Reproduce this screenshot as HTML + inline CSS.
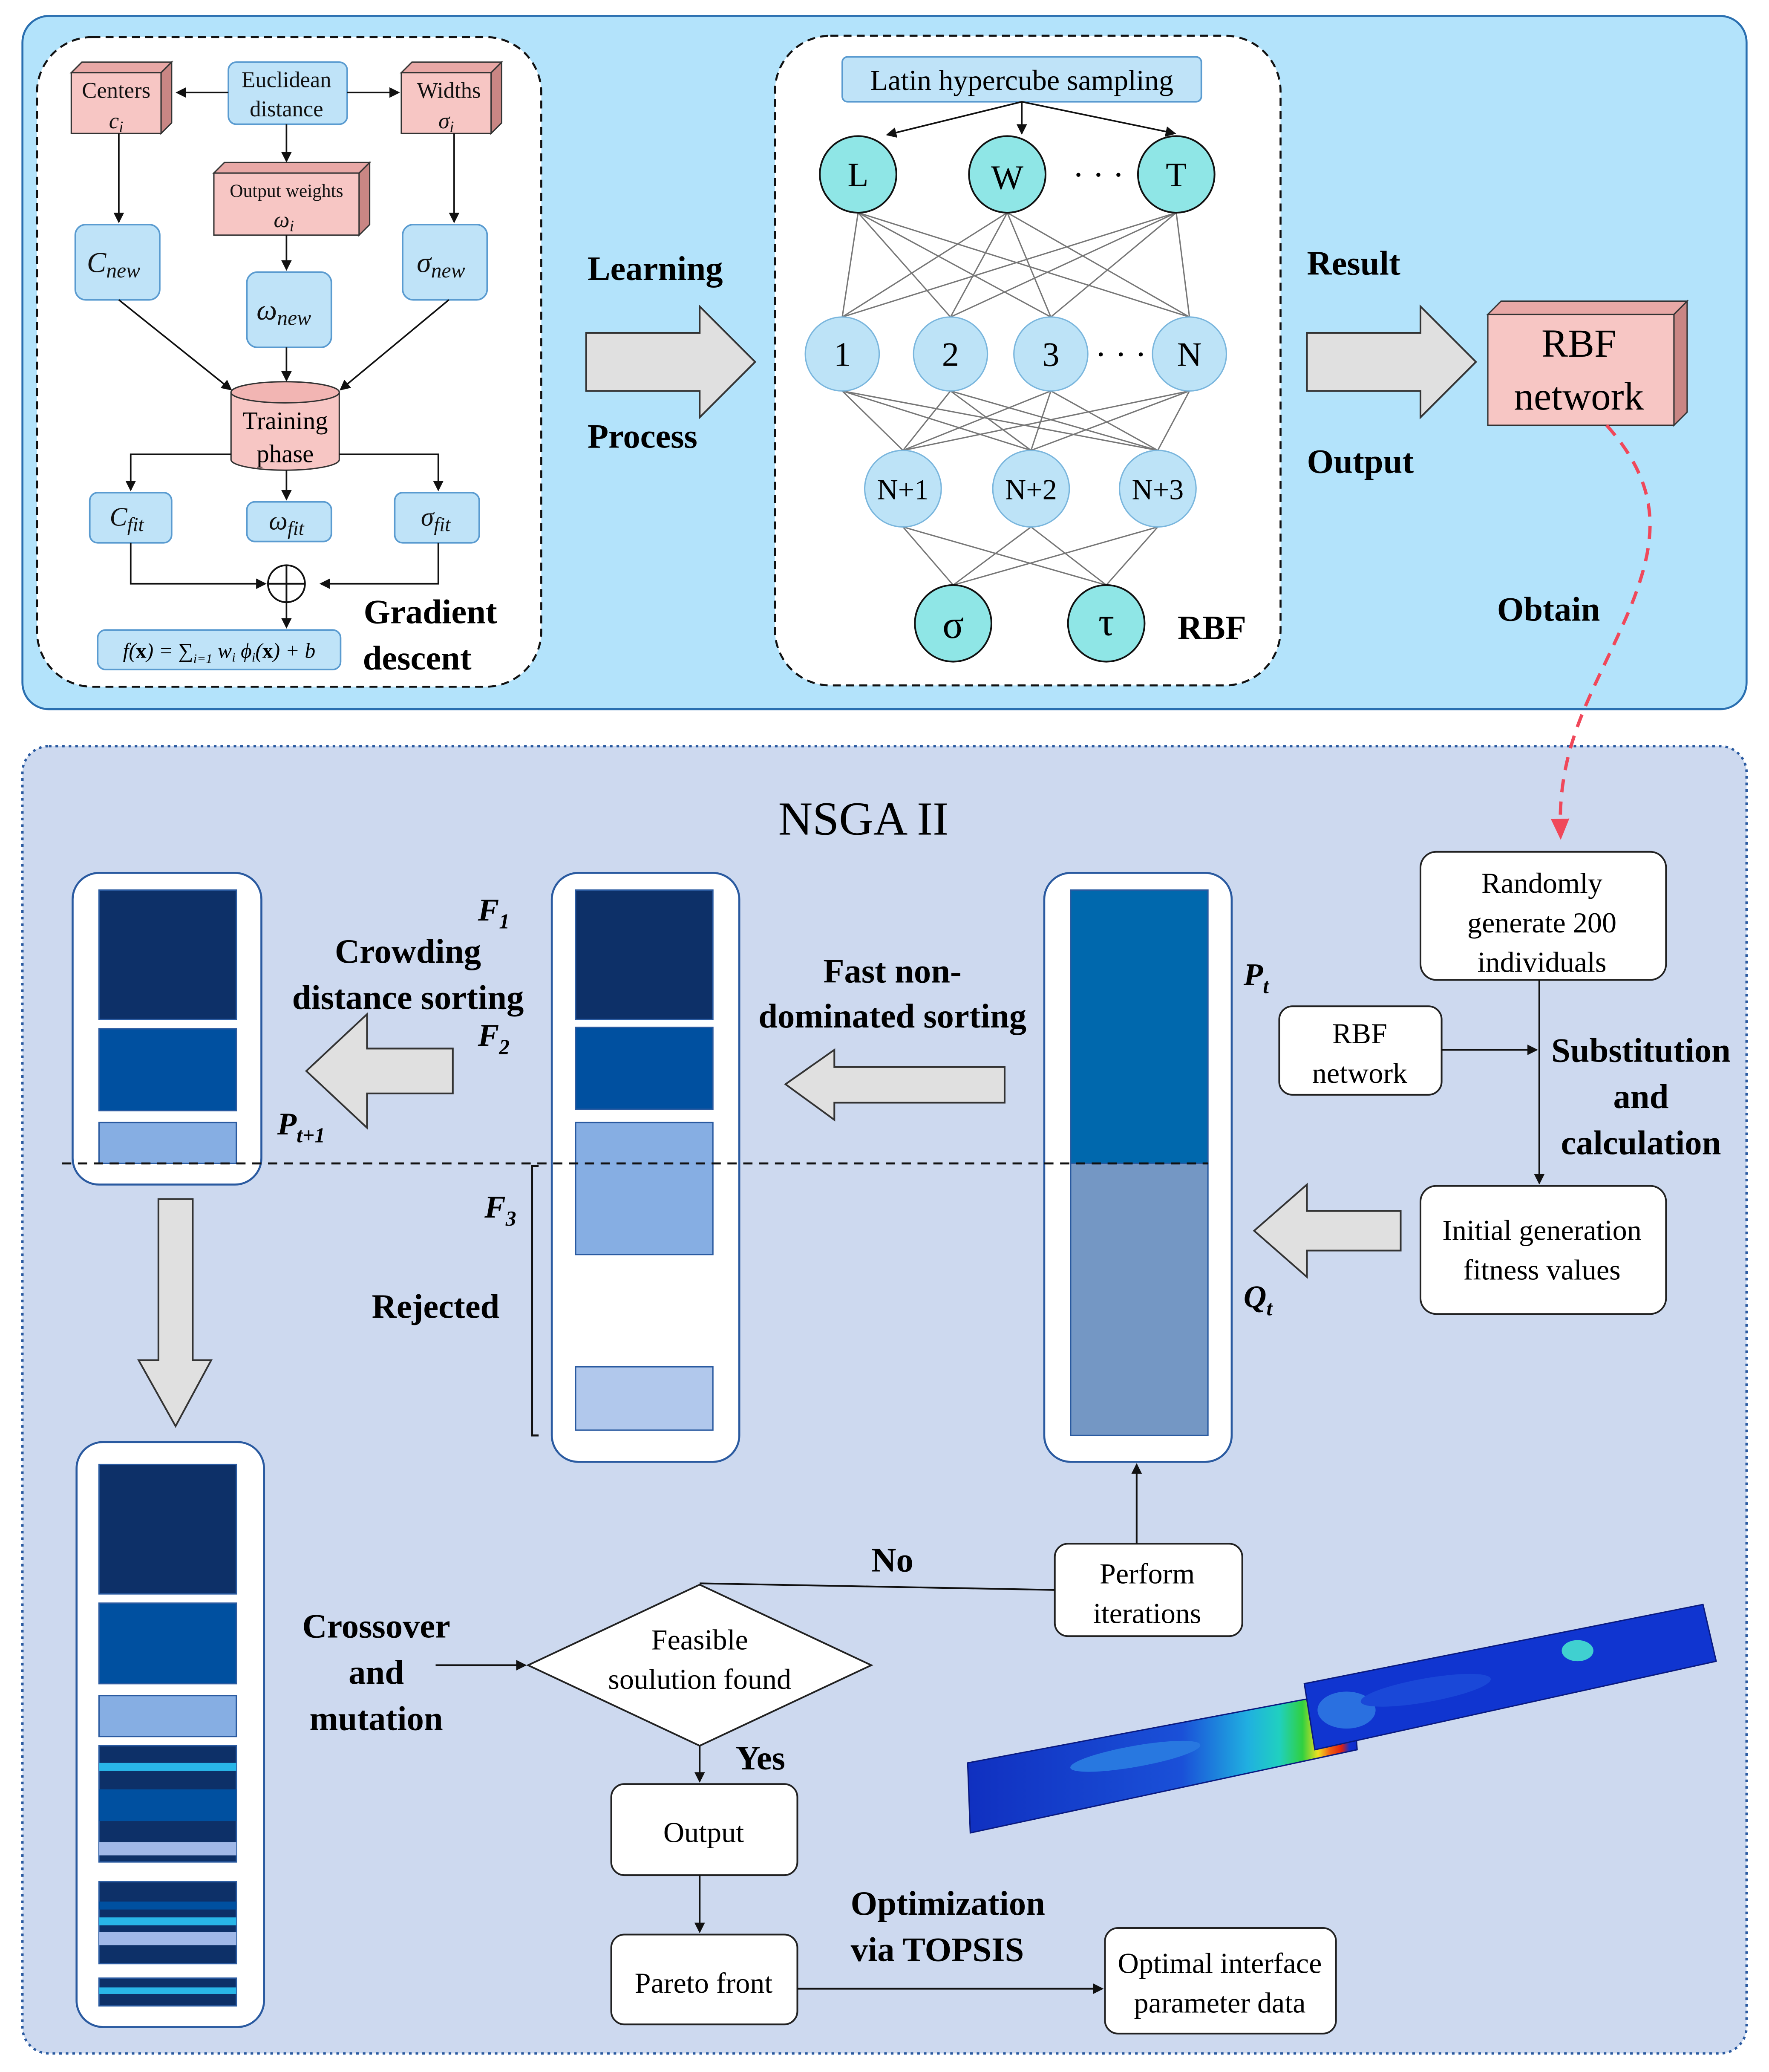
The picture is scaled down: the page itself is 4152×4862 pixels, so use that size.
<!DOCTYPE html>
<html><head><meta charset="utf-8"><style>html,body{margin:0;padding:0;background:#fff}svg{display:block}</style></head><body>
<svg xmlns="http://www.w3.org/2000/svg" width="4152" height="4862" viewBox="0 0 1340 1569" font-family="Liberation Serif, serif">
<defs>
<marker id="a" markerWidth="8" markerHeight="8" refX="7" refY="4" orient="auto" markerUnits="userSpaceOnUse"><path d="M0,0 L8,4 L0,8 z" fill="#111"/></marker>
<marker id="r" markerWidth="16" markerHeight="14" refX="8" refY="7" orient="auto" markerUnits="userSpaceOnUse"><path d="M0,0 L16,7 L0,14 z" fill="#f0485a"/></marker>
<linearGradient id="fe" x1="0" x2="1" y1="0" y2="0"><stop offset="0" stop-color="#1030c0"/><stop offset="0.55" stop-color="#1a50d8"/><stop offset="0.72" stop-color="#20b0e0"/><stop offset="0.8" stop-color="#20d0c0"/><stop offset="0.86" stop-color="#30d040"/><stop offset="0.9" stop-color="#f0e020"/><stop offset="0.93" stop-color="#f06010"/><stop offset="0.96" stop-color="#e02010"/><stop offset="0.98" stop-color="#1030d0"/><stop offset="1" stop-color="#0f2ccc"/></linearGradient>
</defs>
<!-- Top panel -->
<rect x="17" y="12" width="1306" height="525" rx="20" fill="#b3e3fb" stroke="#2a6fb0" stroke-width="1.5"/>
<rect x="28" y="28" width="382" height="492" rx="42" fill="#fff" stroke="#111" stroke-width="1.5" stroke-dasharray="6,4"/>
<rect x="587" y="27" width="383" height="492" rx="42" fill="#fff" stroke="#111" stroke-width="1.5" stroke-dasharray="6,4"/>
<g stroke="#333" stroke-width="1">
<path d="M54,55 L62,47 L130,47 L122,55z" fill="#e8a8a6"/><path d="M122,55 L130,47 L130,93 L122,101z" fill="#c98684"/><rect x="54" y="55" width="68" height="46" fill="#f7c6c4"/>
<path d="M304,55 L312,47 L380,47 L372,55z" fill="#e8a8a6"/><path d="M372,55 L380,47 L380,93 L372,101z" fill="#c98684"/><rect x="304" y="55" width="68" height="46" fill="#f7c6c4"/>
<path d="M162,131 L170,123 L280,123 L272,131z" fill="#e8a8a6"/><path d="M272,131 L280,123 L280,170 L272,178z" fill="#c98684"/><rect x="162" y="131" width="110" height="47" fill="#f7c6c4"/>
<path d="M1127,238 L1137,228 L1278,228 L1268,238z" fill="#e8a8a6"/><path d="M1268,238 L1278,228 L1278,312 L1268,322z" fill="#c98684"/><rect x="1127" y="238" width="141" height="84" fill="#f7c6c4"/>
</g>
<g font-size="17" text-anchor="middle" fill="#111">
<text x="88" y="74">Centers</text><text x="88" y="97" font-style="italic">c<tspan font-size="12" dy="3">i</tspan></text>
<text x="340" y="74">Widths</text><text x="338" y="97" font-style="italic">σ<tspan font-size="12" dy="3">i</tspan></text>
<text x="217" y="149" font-size="14">Output weights</text><text x="215" y="172" font-style="italic">ω<tspan font-size="12" dy="3">i</tspan></text>
</g>
<g fill="#bfe3f8" stroke="#5a9bd0" stroke-width="1.2">
<rect x="173" y="47" width="90" height="47" rx="6"/>
<rect x="57" y="170" width="64" height="57" rx="8"/><rect x="187" y="206" width="64" height="57" rx="8"/><rect x="305" y="170" width="64" height="57" rx="8"/>
<rect x="68" y="373" width="62" height="38" rx="6"/><rect x="187" y="380" width="64" height="30" rx="6"/><rect x="299" y="373" width="64" height="38" rx="6"/>
<rect x="74" y="477" width="184" height="30" rx="6"/>
<rect x="638" y="43" width="272" height="34" rx="4"/>
</g>
<g font-size="17" text-anchor="middle" fill="#111">
<text x="217" y="66">Euclidean</text><text x="217" y="88">distance</text>
</g>
<g font-size="22" font-style="italic" text-anchor="middle" fill="#111">
<text x="86" y="206">C<tspan font-size="16" dy="4">new</tspan></text>
<text x="215" y="242">ω<tspan font-size="16" dy="4">new</tspan></text>
<text x="334" y="206">σ<tspan font-size="16" dy="4">new</tspan></text>
<text x="96" y="398" font-size="20">C<tspan font-size="15" dy="4">fit</tspan></text>
<text x="217" y="401" font-size="20">ω<tspan font-size="15" dy="4">fit</tspan></text>
<text x="330" y="398" font-size="20">σ<tspan font-size="15" dy="4">fit</tspan></text>
</g>
<text x="166" y="498" font-size="16" font-style="italic" text-anchor="middle">f(<tspan font-weight="bold" font-style="normal">x</tspan>) = ∑<tspan font-size="10" dy="4">i=1</tspan><tspan dy="-4"> w</tspan><tspan font-size="10" dy="3">i</tspan><tspan dy="-3"> ϕ</tspan><tspan font-size="10" dy="3">i</tspan><tspan dy="-3">(</tspan><tspan font-weight="bold" font-style="normal">x</tspan>) + b</text>
<path d="M175,297 L175,348 A41,8 0 0 0 257,348 L257,297" fill="#f7c6c4" stroke="#333"/>
<ellipse cx="216" cy="297" rx="41" ry="8" fill="#f2b5b3" stroke="#333"/>
<text x="216" y="325" font-size="19" text-anchor="middle">Training</text><text x="216" y="350" font-size="19" text-anchor="middle">phase</text>
<circle cx="217" cy="442" r="14" fill="#fff" stroke="#111" stroke-width="1.3"/><path d="M203,442 H231 M217,428 V456" stroke="#111" stroke-width="1.3"/>
<g stroke="#111" stroke-width="1.2" fill="none" marker-end="url(#a)">
<path d="M173,70 H134"/><path d="M263,70 H302"/><path d="M217,94 V122"/>
<path d="M90,101 V168"/><path d="M344,101 V168"/><path d="M217,178 V204"/>
<path d="M90,227 L175,295"/><path d="M217,263 V288"/><path d="M340,227 L258,295"/>
<path d="M175,344 H99 V371"/><path d="M217,356 V378"/><path d="M257,344 H332 V371"/>
<path d="M99,411 V442 H201"/><path d="M332,411 V442 H243"/><path d="M217,456 V475"/>
</g>
<text x="326" y="472" font-size="26" font-weight="bold" text-anchor="middle">Gradient</text>
<text x="316" y="507" font-size="26" font-weight="bold" text-anchor="middle">descent</text>
<g fill="#e0e0e0" stroke="#333" stroke-width="1.3">
<path d="M444,252 H530 V232 L572,274 L530,316 V296 H444z"/>
<path d="M990,252 H1076 V232 L1118,274 L1076,316 V296 H990z"/>
</g>
<g font-size="26" font-weight="bold">
<text x="445" y="212">Learning</text><text x="445" y="339">Process</text>
<text x="990" y="208">Result</text><text x="990" y="358">Output</text>
<text x="1134" y="470">Obtain</text><text x="892" y="484">RBF</text>
</g>
<text x="1196" y="270" font-size="30" text-anchor="middle">RBF</text><text x="1196" y="310" font-size="30" text-anchor="middle">network</text>
<text x="774" y="68" font-size="22" text-anchor="middle">Latin hypercube sampling</text>
<g stroke="#111" stroke-width="1.2" marker-end="url(#a)"><path d="M774,77 L672,102"/><path d="M774,77 V101"/><path d="M774,77 L890,101"/></g>
<g stroke="#777" stroke-width="1">
<path d="M650,161 L638,240 M650,161 L720,240 M650,161 L796,240 M650,161 L901,240 M763,161 L638,240 M763,161 L720,240 M763,161 L796,240 M763,161 L901,240 M891,161 L638,240 M891,161 L720,240 M891,161 L796,240 M891,161 L901,240"/>
<path d="M638,296 L684,341 M638,296 L781,341 M638,296 L877,341 M720,296 L684,341 M720,296 L781,341 M720,296 L877,341 M796,296 L684,341 M796,296 L781,341 M796,296 L877,341 M901,296 L684,341 M901,296 L781,341 M901,296 L877,341"/>
<path d="M684,399 L722,443 M684,399 L838,443 M781,399 L722,443 M781,399 L838,443 M877,399 L722,443 M877,399 L838,443"/>
</g>
<g stroke="#111" stroke-width="1.3">
<circle cx="650" cy="132" r="29" fill="#8fe6e6"/><circle cx="763" cy="132" r="29" fill="#8fe6e6"/><circle cx="891" cy="132" r="29" fill="#8fe6e6"/>
<circle cx="722" cy="472" r="29" fill="#8fe6e6"/><circle cx="838" cy="472" r="29" fill="#8fe6e6"/>
</g>
<g stroke="#7ab6dd" stroke-width="1" fill="#bde3f7">
<circle cx="638" cy="268" r="28"/><circle cx="720" cy="268" r="28"/><circle cx="796" cy="268" r="28"/><circle cx="901" cy="268" r="28"/>
<circle cx="684" cy="370" r="29"/><circle cx="781" cy="370" r="29"/><circle cx="877" cy="370" r="29"/>
</g>
<g font-size="26" text-anchor="middle">
<text x="650" y="141">L</text><text x="763" y="143">W</text><text x="891" y="141">T</text><text x="832" y="141">· · ·</text>
<text x="638" y="277">1</text><text x="720" y="277">2</text><text x="796" y="277">3</text><text x="901" y="277">N</text><text x="849" y="277">· · ·</text>
<text x="684" y="378" font-size="22">N+1</text><text x="781" y="378" font-size="22">N+2</text><text x="877" y="378" font-size="22">N+3</text>
<text x="722" y="483" font-size="30">σ</text><text x="838" y="481" font-size="30">τ</text>
</g>
<rect x="17" y="565" width="1306" height="990" rx="20" fill="#cdd9ef" stroke="#2a5aa0" stroke-width="1.8" stroke-dasharray="2,3"/>
<path d="M1217,322 C1260,370 1255,410 1235,460 C1210,520 1180,560 1182,628" fill="none" stroke="#f0485a" stroke-width="2.5" stroke-dasharray="10,7" marker-end="url(#r)"/>
<text x="654" y="632" font-size="36" text-anchor="middle">NSGA II</text>
<g fill="#fff" stroke="#2a5aa0" stroke-width="1.5">
<rect x="55" y="661" width="143" height="236" rx="20"/><rect x="418" y="661" width="142" height="446" rx="20"/>
<rect x="791" y="661" width="142" height="446" rx="20"/><rect x="58" y="1092" width="142" height="443" rx="20"/>
</g>
<g stroke="#2a5aa0" stroke-width="1">
<rect x="75" y="674" width="104" height="98" fill="#0d3068"/><rect x="75" y="779" width="104" height="62" fill="#0050a0"/><rect x="75" y="850" width="104" height="31" fill="#86aee3"/>
<rect x="436" y="674" width="104" height="98" fill="#0d3068"/><rect x="436" y="778" width="104" height="62" fill="#0050a0"/><rect x="436" y="850" width="104" height="100" fill="#86aee3"/><rect x="436" y="1035" width="104" height="48" fill="#b1c8ec"/>
<rect x="811" y="674" width="104" height="207" fill="#0068ad"/><rect x="811" y="881" width="104" height="206" fill="#7497c4"/>
<rect x="75" y="1109" width="104" height="98" fill="#0d3068"/><rect x="75" y="1214" width="104" height="61" fill="#0050a0"/><rect x="75" y="1284" width="104" height="31" fill="#86aee3"/>
<rect x="75" y="1322" width="104" height="88" fill="#0d3068"/><rect x="75" y="1425" width="104" height="62" fill="#0d3068"/><rect x="75" y="1498" width="104" height="21" fill="#0d3068"/>
</g>
<g>
<rect x="75" y="1335" width="104" height="6" fill="#29b6e8"/><rect x="75" y="1355" width="104" height="24" fill="#0050a0"/><rect x="75" y="1395" width="104" height="10" fill="#a0b8e8"/>
<rect x="75" y="1440" width="104" height="6" fill="#0050a0"/><rect x="75" y="1452" width="104" height="6" fill="#29b6e8"/><rect x="75" y="1463" width="104" height="10" fill="#a0b8e8"/>
<rect x="75" y="1505" width="104" height="5" fill="#29b6e8"/>
</g>
<path d="M47,881 H915" stroke="#111" stroke-width="1.5" stroke-dasharray="7,5"/>
<path d="M408,883 H403 V1087 H408" stroke="#111" stroke-width="1.5" fill="none"/>
<g fill="#e0e0e0" stroke="#333" stroke-width="1.3">
<path d="M343,794 H278 V768 L232,811 L278,854 V828 H343z"/>
<path d="M761,808 H632 V795 L595,821 L632,848 V835 H761z"/>
<path d="M1061,917 H990 V897 L950,932 L990,967 V947 H1061z"/>
<path d="M120,908 H146 V1030 H160 L133,1080 L105,1030 H120z"/>
</g>
<g font-size="26" font-weight="bold" text-anchor="middle">
<text x="309" y="729">Crowding</text><text x="309" y="764">distance sorting</text>
<text x="676" y="744">Fast non-</text><text x="676" y="778">dominated sorting</text>
<text x="330" y="998">Rejected</text>
<text x="1243" y="804">Substitution</text><text x="1243" y="839">and</text><text x="1243" y="874">calculation</text>
<text x="285" y="1240">Crossover</text><text x="285" y="1275">and</text><text x="285" y="1310">mutation</text>
<text x="676" y="1190">No</text><text x="576" y="1340">Yes</text>
<text x="718" y="1450">Optimization</text><text x="710" y="1485">via TOPSIS</text>
</g>
<g font-size="24" font-weight="bold" font-style="italic">
<text x="362" y="697">F<tspan font-size="16" dy="6">1</tspan></text>
<text x="362" y="792">F<tspan font-size="16" dy="6">2</tspan></text>
<text x="210" y="859">P<tspan font-size="16" dy="6">t+1</tspan></text>
<text x="367" y="922">F<tspan font-size="16" dy="6">3</tspan></text>
<text x="942" y="746">P<tspan font-size="16" dy="6">t</tspan></text>
<text x="942" y="990">Q<tspan font-size="16" dy="6">t</tspan></text>
</g>
<g fill="#fff" stroke="#222" stroke-width="1.3">
<rect x="1076" y="645" width="186" height="97" rx="12"/><rect x="969" y="762" width="123" height="67" rx="10"/>
<rect x="1076" y="898" width="186" height="97" rx="12"/><rect x="799" y="1169" width="142" height="70" rx="10"/>
<path d="M400,1261 L530,1200 L660,1261 L530,1322z"/>
<rect x="463" y="1351" width="141" height="69" rx="10"/><rect x="463" y="1465" width="141" height="68" rx="10"/>
<rect x="837" y="1460" width="175" height="80" rx="10"/>
</g>
<g font-size="22" text-anchor="middle">
<text x="1168" y="676">Randomly</text><text x="1168" y="706">generate 200</text><text x="1168" y="736">individuals</text>
<text x="1030" y="790">RBF</text><text x="1030" y="820">network</text>
<text x="1168" y="939">Initial generation</text><text x="1168" y="969">fitness values</text>
<text x="869" y="1199">Perform</text><text x="869" y="1229">iterations</text>
<text x="530" y="1249">Feasible</text><text x="530" y="1279">soulution found</text>
<text x="533" y="1395">Output</text><text x="533" y="1509">Pareto front</text>
<text x="924" y="1494">Optimal interface</text><text x="924" y="1524">parameter data</text>
</g>
<g stroke="#111" stroke-width="1.3" fill="none" marker-end="url(#a)">
<path d="M1166,742 V896"/><path d="M1092,795 H1164"/><path d="M861,1169 V1109"/>
<path d="M330,1261 H398"/><path d="M530,1322 V1349"/><path d="M530,1420 V1463"/><path d="M604,1506 H835"/>
</g>
<path d="M799,1204 L530,1199" stroke="#111" stroke-width="1.3"/>
<!-- FE plot -->
<path d="M733,1335 L1025,1280 L1028,1325 L735,1388z" fill="url(#fe)" stroke="#0a1a80"/>
<ellipse cx="860" cy="1330" rx="50" ry="8" fill="#2878e0" transform="rotate(-10 860 1330)"/>
<path d="M988,1275 L1290,1215 L1300,1258 L996,1325z" fill="#1035d0" stroke="#0a1a80"/>
<ellipse cx="1020" cy="1295" rx="22" ry="14" fill="#2a70e0"/><ellipse cx="1195" cy="1250" rx="12" ry="8" fill="#40d0d0"/>
<ellipse cx="1080" cy="1280" rx="50" ry="9" fill="#1a48d8" transform="rotate(-10 1080 1280)"/>
</svg>
</body></html>
